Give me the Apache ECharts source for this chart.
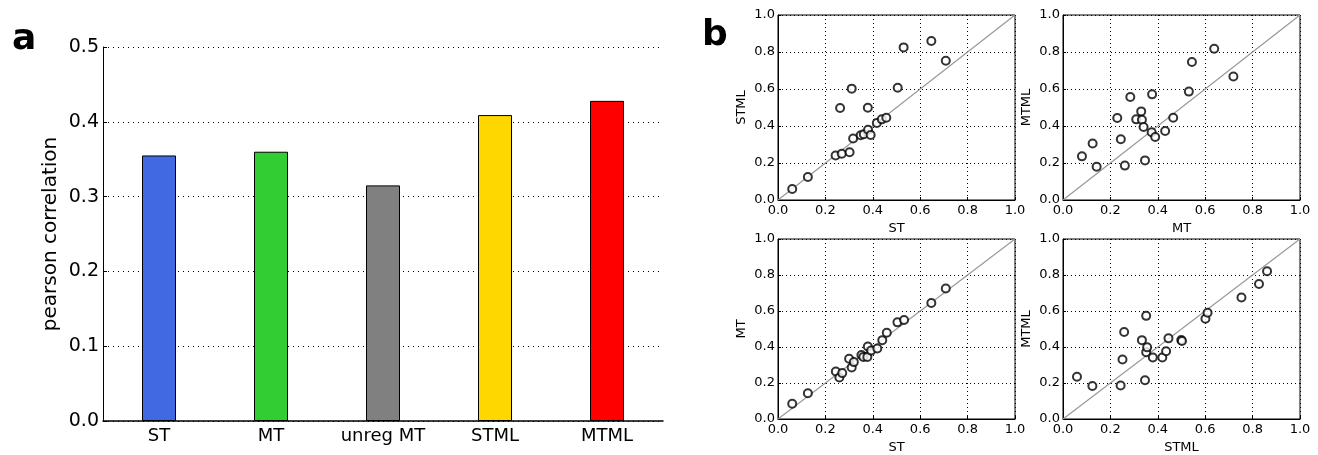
<!DOCTYPE html>
<html>
<head>
<meta charset="utf-8">
<script src="https://cdn.jsdelivr.net/npm/echarts@6/dist/echarts.min.js"></script>
<style>
html,body{margin:0;padding:0;background:#fff;}
#chart{width:1318px;height:455px;}
</style>
</head>
<body>
<div id="chart"></div>
<script>
// ---- Panel a: bar chart ----
const barCategories = ['ST', 'MT', 'unreg MT', 'STML', 'MTML'];
const barValues = [0.355, 0.36, 0.315, 0.409, 0.428];
const barColors = ['#4169E1', '#32CD32', '#808080', '#FFD700', '#FF0000'];
const barTicks = [0, 0.1, 0.2, 0.3, 0.4, 0.5];

// ---- Panel b: scatter plots [x, y] ----
const stVsStml = [
  [0.060, 0.059], [0.126, 0.124], [0.243, 0.241], [0.269, 0.250], [0.302, 0.258],
  [0.262, 0.497], [0.311, 0.602], [0.379, 0.499], [0.317, 0.332], [0.349, 0.350],
  [0.362, 0.355], [0.380, 0.380], [0.391, 0.351], [0.417, 0.416], [0.438, 0.436],
  [0.457, 0.445], [0.505, 0.607], [0.530, 0.825], [0.647, 0.859], [0.708, 0.753]
];
const mtVsMtml = [
  [0.080, 0.236], [0.125, 0.305], [0.142, 0.180], [0.229, 0.443], [0.244, 0.328],
  [0.261, 0.186], [0.284, 0.557], [0.309, 0.436], [0.330, 0.479], [0.333, 0.434],
  [0.340, 0.395], [0.346, 0.214], [0.374, 0.366], [0.376, 0.571], [0.389, 0.341],
  [0.431, 0.373], [0.465, 0.445], [0.531, 0.586], [0.544, 0.746], [0.638, 0.818],
  [0.719, 0.668]
];
const stVsMt = [
  [0.060, 0.085], [0.126, 0.143], [0.244, 0.264], [0.259, 0.231], [0.271, 0.255],
  [0.300, 0.335], [0.311, 0.286], [0.320, 0.316], [0.352, 0.356], [0.360, 0.345],
  [0.379, 0.403], [0.377, 0.345], [0.393, 0.380], [0.419, 0.392], [0.440, 0.438],
  [0.459, 0.479], [0.504, 0.537], [0.532, 0.550], [0.647, 0.644], [0.708, 0.725]
];
const stmlVsMtml = [
  [0.059, 0.235], [0.124, 0.183], [0.243, 0.186], [0.251, 0.331], [0.258, 0.483],
  [0.333, 0.438], [0.346, 0.215], [0.351, 0.573], [0.351, 0.371], [0.355, 0.398],
  [0.379, 0.342], [0.419, 0.342], [0.435, 0.376], [0.445, 0.448], [0.499, 0.439],
  [0.502, 0.433], [0.601, 0.557], [0.610, 0.590], [0.753, 0.675], [0.827, 0.750],
  [0.861, 0.821]
];
const diagonal = [[0, 0], [1, 1]];
const scatterTicks = [0, 0.2, 0.4, 0.6, 0.8, 1.0];

const panels = [
  { data: stVsStml,  xName: 'ST',   yName: 'STML', left: 778,  top: 15 },
  { data: mtVsMtml,  xName: 'MT',   yName: 'MTML', left: 1063, top: 15 },
  { data: stVsMt,    xName: 'ST',   yName: 'MT',   left: 778,  top: 239 },
  { data: stmlVsMtml,xName: 'STML', yName: 'MTML', left: 1063, top: 239 }
];
const PW = 237, PH = 185;
const FONT = 'DejaVu Sans';

const grids = [{ left: 103, top: 47, width: 560, height: 374 }];
const xAxes = [{
  type: 'category', gridIndex: 0, data: barCategories,
  axisLine: { lineStyle: { color: '#000', width: 1.5 } },
  axisTick: { inside: true, alignWithLabel: true, length: 5, lineStyle: { color: '#000' } },
  axisLabel: { color: '#000', fontFamily: FONT, fontSize: 18, margin: 6, interval: 0, hideOverlap: false },
  splitLine: { show: false }
}];
const yAxes = [{
  type: 'value', gridIndex: 0, min: barTicks[0], max: barTicks[barTicks.length - 1], interval: 0.1,
  name: 'pearson correlation', nameLocation: 'middle', nameRotate: 90, nameGap: 42,
  nameTextStyle: { color: '#000', fontFamily: FONT, fontSize: 20 },
  axisLine: { show: true, lineStyle: { color: '#000', width: 1 } },
  axisTick: { show: true, inside: true, length: 4, lineStyle: { color: '#000' } },
  axisLabel: { color: '#000', fontFamily: FONT, fontSize: 19, margin: 4, formatter: v => v.toFixed(1) },
  splitLine: { show: true, lineStyle: { color: '#000', type: [1, 4], width: 1 } }
}];
const series = [{
  type: 'bar', xAxisIndex: 0, yAxisIndex: 0, barWidth: 34,
  data: barValues.map((v, i) => ({ value: v, itemStyle: { color: barColors[i], borderColor: '#000', borderWidth: 1 } })),
  silent: true
}];

panels.forEach((p, k) => {
  const gi = k + 1;
  grids.push({ left: p.left, top: p.top, width: PW, height: PH, show: true, borderColor: '#000', borderWidth: 1, backgroundColor: 'transparent' });
  xAxes.push({
    type: 'value', gridIndex: gi, min: 0, max: 1, interval: 0.2,
    name: p.xName, nameLocation: 'middle', nameGap: 22,
    nameTextStyle: { color: '#000', fontFamily: FONT, fontSize: 13 },
    axisLine: { show: true, onZero: false, lineStyle: { color: '#000' } },
    axisTick: { show: true, inside: true, length: 3, lineStyle: { color: '#000' } },
    axisLabel: { color: '#000', fontFamily: FONT, fontSize: 13, margin: 4, formatter: v => v.toFixed(1) },
    splitLine: { show: true, lineStyle: { color: '#000', type: [1, 3], width: 1 } }
  });
  yAxes.push({
    type: 'value', gridIndex: gi, min: 0, max: 1, interval: 0.2,
    name: p.yName, nameLocation: 'middle', nameRotate: 90, nameGap: 30,
    nameTextStyle: { color: '#000', fontFamily: FONT, fontSize: 13 },
    axisLine: { show: true, onZero: false, lineStyle: { color: '#000' } },
    axisTick: { show: true, inside: true, length: 3, lineStyle: { color: '#000' } },
    axisLabel: { color: '#000', fontFamily: FONT, fontSize: 13, margin: 3, formatter: v => v.toFixed(1) },
    splitLine: { show: true, lineStyle: { color: '#000', type: [1, 3], width: 1 } }
  });
  series.push({
    type: 'line', xAxisIndex: gi, yAxisIndex: gi, data: diagonal, showSymbol: false,
    lineStyle: { color: '#999', width: 1.2 }, silent: true, z: 2
  });
  series.push({
    type: 'scatter', xAxisIndex: gi, yAxisIndex: gi, data: p.data,
    symbol: 'emptyCircle', symbolSize: 8,
    itemStyle: { color: '#000', borderColor: '#000', borderWidth: 1.1 }, silent: true, z: 3
  });
});

const chart = echarts.init(document.getElementById('chart'), null, { renderer: 'canvas' });
chart.setOption({
  animation: false,
  backgroundColor: '#fff',
  graphic: [
    { type: 'text', left: 12, top: 22, style: { text: 'a', fontFamily: FONT, fontSize: 36, fontWeight: 'bold', fill: '#000' } },
    { type: 'text', left: 702, top: 18, style: { text: 'b', fontFamily: FONT, fontSize: 36, fontWeight: 'bold', fill: '#000' } }
  ],
  grid: grids,
  xAxis: xAxes,
  yAxis: yAxes,
  series: series
});
</script>
</body>
</html>
